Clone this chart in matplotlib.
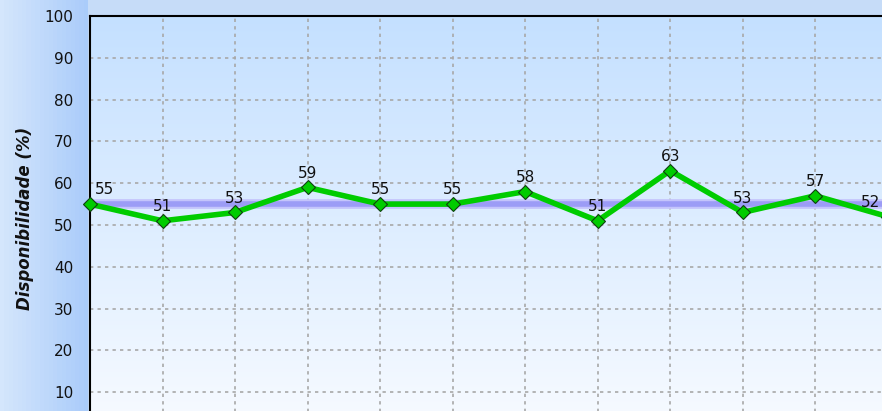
import numpy as np
import matplotlib.pyplot as plt
from matplotlib.colors import to_rgb

# data
valores = [55, 51, 53, 59, 55, 55, 58, 51, 63, 53, 57, 52]
media = 55
yticks = [10, 20, 30, 40, 50, 60, 70, 80, 90, 100]

x = np.arange(len(valores))

fig = plt.figure(figsize=(8.82, 4.11), dpi=100)

# outer background gradient (light blue, darker towards the axis on the left)
bg = fig.add_axes([0, 0, 1, 1], zorder=-10)
bg.axis("off")
c_light = np.array(to_rgb("#d4e6fc"))
c_dark = np.array(to_rgb("#a9cbfa"))
c_top = np.array(to_rgb("#c6dcf8"))
gx = np.linspace(0, 1, 200)
gy = np.linspace(0, 1, 100)
GX, GY = np.meshgrid(gx, gy)
t = np.clip(GX / 0.1, 0, 1)[..., None]
img = c_light * (1 - t) + c_dark * t
mask = (GX > 0.1)[..., None]
img = np.where(mask, c_top, img)
bg.imshow(img, extent=[0, 1, 0, 1], aspect="auto", origin="lower")
bg.set_xlim(0, 1)
bg.set_ylim(0, 1)

# plot area, extends beyond the bottom and right of the picture
xmax = 11.5
ax = fig.add_axes([90 / 882, (411 - 434) / 411, 834 / 882, 418 / 411])
ax.set_xlim(0, xmax)
ax.set_ylim(0, 100)

top_c = np.array(to_rgb("#c4e0ff"))
bot_c = np.array(to_rgb("#f8fbff"))
s = np.linspace(0, 1, 256)[:, None, None]
grad = bot_c * (1 - s) + top_c * s
ax.imshow(grad, extent=[0, xmax, 0, 100], aspect="auto", origin="lower", zorder=0)

ax.set_yticks(yticks)
ax.set_xticks(x)
ax.set_xticklabels([])
ax.grid(True, color="#a8a8a8", linestyle=(0, (2, 2.5)), linewidth=1.2)
for gl in ax.get_xgridlines() + ax.get_ygridlines():
    gl.set_zorder(1)
ax.tick_params(axis="y", length=0, labelsize=11, pad=12, labelcolor="#111111")
ax.tick_params(axis="x", length=0)

for side in ["right", "bottom"]:
    ax.spines[side].set_visible(False)
ax.spines["top"].set_linewidth(1.5)
ax.spines["left"].set_linewidth(1.5)

# average line
ax.axhline(media, color="#c4c4fc", linewidth=7, zorder=2)
ax.axhline(media, color="#9c9cf6", linewidth=4, zorder=2)

# series
ax.plot(x, valores, color="#00cc00", linewidth=4, marker="D", markersize=7.5,
        markerfacecolor="#00cc00", markeredgecolor="#104010", markeredgewidth=0.8,
        zorder=3, clip_on=False)

# last label is pushed inside the visible picture
x_edge = (880 - 90) / 834 * xmax
n = len(valores)
for xi, v in zip(x, valores):
    if xi == 0:
        ax.text(xi + 0.07, v + 1.6, str(v), ha="left", va="bottom", fontsize=11,
                color="#111111", zorder=4)
    elif xi == n - 1:
        ax.text(x_edge, v + 1.6, str(v), ha="right", va="bottom",
                fontsize=11, color="#111111", zorder=4)
    else:
        ax.text(xi, v + 1.6, str(v), ha="center", va="bottom", fontsize=11,
                color="#111111", zorder=4)

fig.text(25 / 882, 1 - 218 / 411, "Disponibilidade (%)", rotation=90,
         fontsize=12, fontweight="bold", fontstyle="italic",
         ha="center", va="center", color="#111111")

fig.savefig("out.png", dpi=100)
